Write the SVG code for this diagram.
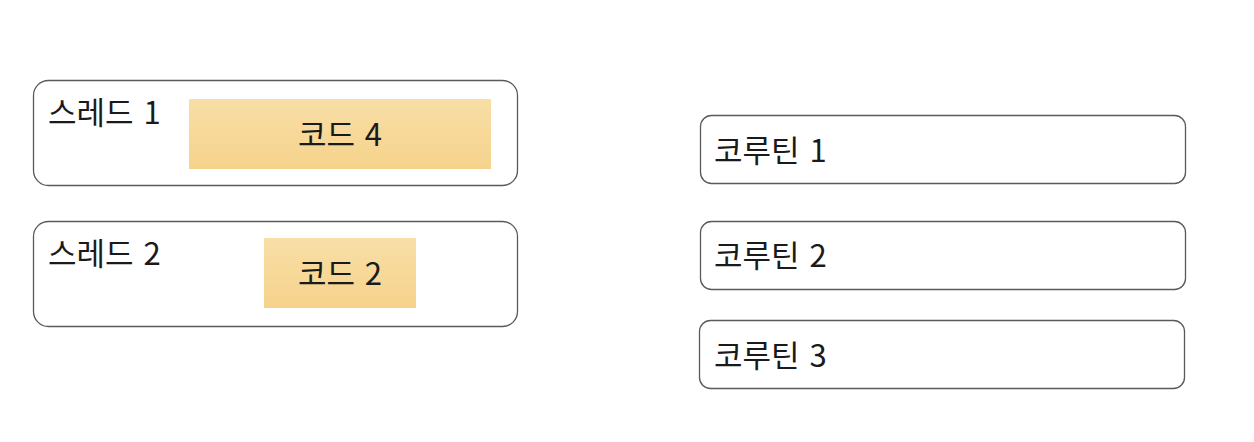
<svg xmlns="http://www.w3.org/2000/svg" width="1254" height="442" viewBox="0 0 1254 442">
<style>
.box{fill:#fff;stroke:#5a5a5a;stroke-width:1.3}
.code{stroke:none}
.t{font-family:"Noto Sans CJK KR","Noto Sans",sans-serif;font-size:31px;fill:#1a1a1a;word-spacing:3px}
.c{text-anchor:middle}
</style>
<defs>
<linearGradient id="g" x1="0" y1="0" x2="0" y2="1">
<stop offset="0" stop-color="#f8dea7"/>
<stop offset="1" stop-color="#f6d38b"/>
</linearGradient>
</defs>
<rect width="1254" height="442" fill="#fff"/>
<g id="thread1">
<rect class="box" x="33.5" y="80.5" width="484" height="105" rx="15"/>
<text class="t" x="48" y="124">스레드 1</text>
<rect class="code" fill="url(#g)" x="189" y="99" width="302" height="70"/>
<text class="t c" x="340" y="146">코드 4</text>
</g>
<g id="thread2">
<rect class="box" x="33.5" y="221.5" width="484" height="105" rx="15"/>
<text class="t" x="48" y="265">스레드 2</text>
<rect class="code" fill="url(#g)" x="264" y="238" width="152" height="70"/>
<text class="t c" x="340" y="285">코드 2</text>
</g>
<g id="coroutine1">
<rect class="box" x="700.5" y="115.5" width="485" height="68" rx="11"/>
<text class="t" x="714" y="162">코루틴 1</text>
</g>
<g id="coroutine2">
<rect class="box" x="700.5" y="221.5" width="485" height="68" rx="11"/>
<text class="t" x="714" y="267">코루틴 2</text>
</g>
<g id="coroutine3">
<rect class="box" x="699.5" y="320.5" width="485" height="68" rx="11"/>
<text class="t" x="714" y="367">코루틴 3</text>
</g>
<g id="connectors"></g>
</svg>
